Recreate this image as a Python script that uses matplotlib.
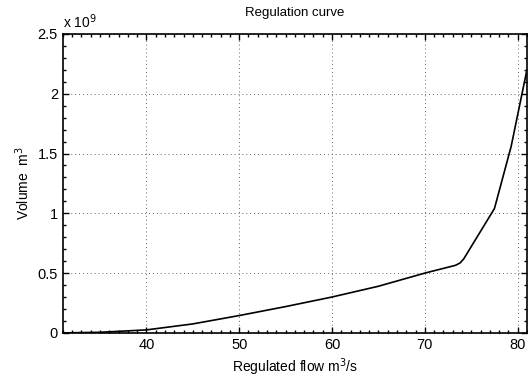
import matplotlib.pyplot as plt
from matplotlib.ticker import MultipleLocator

plt.rcParams['font.family'] = ['Liberation Sans', 'DejaVu Sans']

# regulated flow (m3/s) and required volume (x 1e9 m3)
flow = [31, 35, 40, 45, 50, 55, 60, 62.5, 65, 67.5, 70, 73.3, 73.8, 74.2, 77.5, 79.3, 81]
volume = [0.0, 0.005, 0.025, 0.075, 0.145, 0.22, 0.30, 0.345, 0.39, 0.445, 0.50, 0.565, 0.585, 0.62, 1.04, 1.56, 2.2]

fig = plt.figure(figsize=(5.28, 3.77), dpi=100)
ax = fig.add_axes([0.119, 0.117, 0.879, 0.793])

ax.plot(flow, volume, color='black', linewidth=1.2)

ax.set_xlim(31, 81)
ax.set_ylim(0, 2.5)
ax.set_xticks([40, 50, 60, 70, 80])
ax.set_yticks([0, 0.5, 1, 1.5, 2, 2.5])
ax.set_yticklabels(['0', '0.5', '1', '1.5', '2', '2.5'])
ax.xaxis.set_minor_locator(MultipleLocator(1))
ax.yaxis.set_minor_locator(MultipleLocator(0.1))
ax.tick_params(which='both', direction='in', top=True, right=True, labelsize=10.5)
ax.tick_params(which='major', length=4, width=1)
ax.tick_params(which='minor', length=2.5, width=1)
for s in ax.spines.values():
    s.set_linewidth(1.2)

ax.grid(True, which='major', linestyle=(0, (1, 3)), color='#666666', linewidth=0.7)

ax.set_title('Regulation curve', fontsize=9.5, pad=13)
ax.set_xlabel('Regulated flow m$^3$/s', fontsize=10, labelpad=3)
ax.set_ylabel('Volume  m$^3$', fontsize=10, labelpad=4)
ax.text(0.0, 1.01, 'x 10$^9$', transform=ax.transAxes, fontsize=10, va='bottom', ha='left')

fig.savefig('out.png', dpi=100)
